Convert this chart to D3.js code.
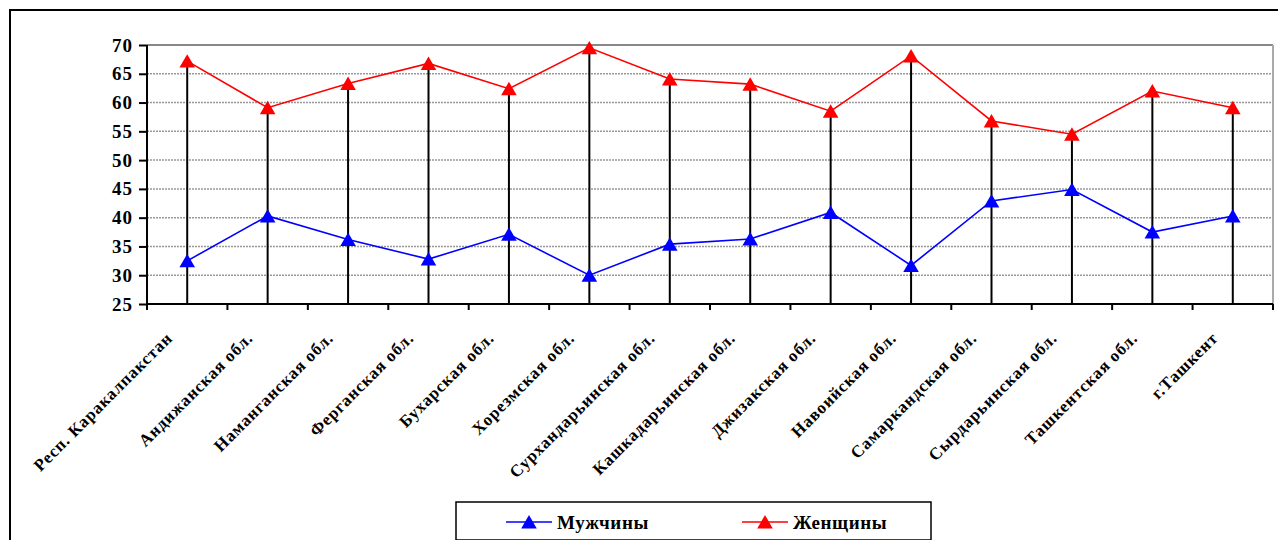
<!DOCTYPE html>
<html><head><meta charset="utf-8">
<script src="https://cdn.jsdelivr.net/npm/d3@7"></script>
<style>body{margin:0;background:#fff} svg{display:block}</style>
</head><body><svg id="c" width="1278" height="540"></svg>
<script>
const categories = ["Респ. Каракалпакстан","Андижанская обл.","Наманганская обл.","Ферганская обл.","Бухарская обл.","Хорезмская обл.","Сурхандарьинская обл.","Кашкадарьинская обл.","Джизакская обл.","Навоийская обл.","Самаркандская обл.","Сырдарьинская обл.","Ташкентская обл.","г.Ташкент"];
const men = [32.5,40.3,36.2,32.8,37.1,30.0,35.4,36.3,40.9,31.7,42.9,44.9,37.5,40.3];
const women = [67.2,59.1,63.3,66.8,62.4,69.5,64.1,63.2,58.5,68.1,56.8,54.5,62.0,59.1];
const yTicks = [25,30,35,40,45,50,55,60,65,70];
const seriesNames = ["Мужчины","Женщины"];
const seriesColors = ["#0000FF","#FF0000"];

const svg = d3.select("#c");
const FONT = "'Liberation Serif','Times New Roman',serif";
const L = 147, R = 1273, T = 45, B = 304;
const x = d3.scaleBand().domain(categories).range([L, R]);
const y = d3.scaleLinear().domain([25, 70]).range([B, T]);
const cx = c => x(c) + x.bandwidth() / 2;

// outer frame
svg.append("rect").attr("x", 10).attr("y", 10).attr("width", 1300).attr("height", 600)
  .attr("fill", "none").attr("stroke", "#000").attr("stroke-width", 2);

// gridlines
svg.append("g").selectAll("line").data(yTicks.filter(v => v > 25)).join("line")
  .attr("x1", L).attr("x2", R).attr("y1", d => y(d)).attr("y2", d => y(d))
  .attr("stroke", d => d === 70 ? "#888" : "#999")
  .attr("stroke-width", d => d === 70 ? 2 : 1.5)
  .attr("stroke-dasharray", d => d === 70 ? null : "2,1");
// plot right border
svg.append("line").attr("x1", R).attr("x2", R).attr("y1", T).attr("y2", B)
  .attr("stroke", "#aaa").attr("stroke-width", 2);

// y axis
const yAxis = svg.append("g").attr("transform", `translate(${L},0)`)
  .call(d3.axisLeft(y).tickValues(yTicks).tickSize(8).tickPadding(6));
yAxis.select(".domain").attr("stroke", "#000").attr("stroke-width", 2).attr("d", `M0,${T}V${B}`);
yAxis.selectAll(".tick line").attr("stroke", "#000").attr("stroke-width", 2);
yAxis.selectAll(".tick text").attr("font-family", FONT).attr("font-weight", "bold")
  .attr("font-size", 19).attr("letter-spacing", 1).attr("fill", "#000");

// x axis line + boundary ticks
svg.append("line").attr("x1", L).attr("x2", R).attr("y1", B).attr("y2", B)
  .attr("stroke", "#000").attr("stroke-width", 2);
const bounds = categories.map(c => x(c)).concat([x.range()[1]]);
svg.append("g").selectAll("line").data(bounds).join("line")
  .attr("x1", d => d).attr("x2", d => d).attr("y1", B).attr("y2", B + 6)
  .attr("stroke", "#000").attr("stroke-width", 2);

// x labels
svg.append("g").selectAll("text").data(categories).join("text")
  .attr("transform", d => `translate(${cx(d) - 18},${B + 31}) rotate(-45)`)
  .attr("text-anchor", "end").attr("dy", "0.35em")
  .attr("font-family", FONT).attr("font-weight", "bold").attr("font-size", 17)
  .attr("letter-spacing", 0.8).text(d => d);

// drop lines
svg.append("g").selectAll("line").data(categories).join("line")
  .attr("x1", d => cx(d)).attr("x2", d => cx(d))
  .attr("y1", B).attr("y2", (d, i) => y(Math.max(men[i], women[i])))
  .attr("stroke", "#000").attr("stroke-width", 2);

const tri = d3.symbol(d3.symbolTriangle, 105);
const series = [men, women];
series.forEach((vals, s) => {
  const line = d3.line().x((d, i) => cx(categories[i])).y(d => y(d));
  svg.append("path").datum(vals).attr("d", line).attr("fill", "none")
    .attr("stroke", seriesColors[s]).attr("stroke-width", 1.6);
  svg.append("g").selectAll("path").data(vals).join("path")
    .attr("d", tri).attr("fill", seriesColors[s])
    .attr("transform", (d, i) => `translate(${cx(categories[i])},${y(d) + 2})`);
});

// legend
const lg = svg.append("g");
lg.append("rect").attr("x", 456).attr("y", 502).attr("width", 475).attr("height", 38)
  .attr("fill", "#fff").attr("stroke", "#000").attr("stroke-width", 1.5);
const legendX = [506, 742];
seriesNames.forEach((n, s) => {
  const g = lg.append("g").attr("transform", `translate(${legendX[s]},522)`);
  g.append("line").attr("x1", 0).attr("x2", 46).attr("stroke", seriesColors[s]).attr("stroke-width", 1.6);
  g.append("path").attr("d", tri).attr("fill", seriesColors[s]).attr("transform", "translate(23,2)");
  g.append("text").attr("x", 51).attr("dy", "0.35em").attr("font-family", FONT)
    .attr("font-weight", "bold").attr("font-size", 19).attr("letter-spacing", 0.6).text(n);
});
</script></body></html>
